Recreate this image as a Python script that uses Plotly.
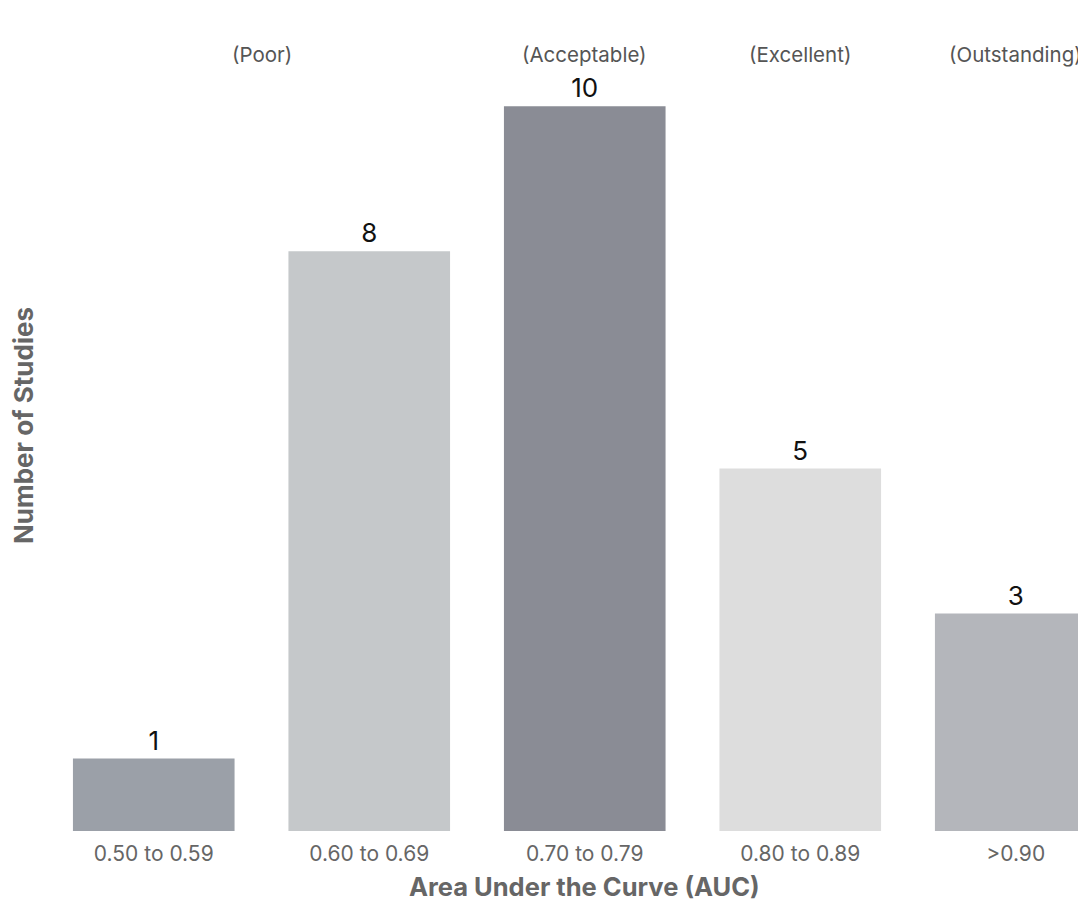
import plotly.graph_objects as go

categories = ["0.50 to 0.59", "0.60 to 0.69", "0.70 to 0.79", "0.80 to 0.89", ">0.90"]
counts = [1, 8, 10, 5, 3]
bar_colors = ["#9ba0a8", "#c5c8ca", "#8a8c95", "#dddddd", "#b4b6bb"]
rating_labels = ["(Poor)", "(Acceptable)", "(Excellent)", "(Outstanding)"]
rating_positions = [0.5, 2, 3, 4]

font_family = "Inter, Liberation Sans, Arial, sans-serif"

fig = go.Figure(
    go.Bar(
        x=list(range(len(categories))),
        y=counts,
        marker=dict(color=bar_colors, line=dict(width=0)),
        text=[str(c) for c in counts],
        textposition="outside",
        textfont=dict(size=26, color="#111111", family=font_family),
        cliponaxis=False,
        width=0.75,
    )
)

for lab, pos in zip(rating_labels, rating_positions):
    fig.add_annotation(
        x=pos, y=10.72, xref="x", yref="y", text=lab, showarrow=False,
        font=dict(size=20.5, color="#555555", family=font_family),
    )

# x-axis title centred on the middle category (plot area extends past the right edge)
fig.add_annotation(
    x=2, xref="x", y=-0.069, yref="paper", yanchor="middle",
    text="<b>Area Under the Curve (AUC)</b>", showarrow=False,
    font=dict(size=25.5, color="#666666", family=font_family),
)

fig.update_layout(
    width=1078, height=893,
    margin=dict(l=38, r=0, t=12, b=70),
    plot_bgcolor="white", paper_bgcolor="white",
    showlegend=False,
    font=dict(family=font_family),
)
fig.update_xaxes(
    tickmode="array", tickvals=list(range(len(categories))), ticktext=categories,
    range=[-0.5, 4.326],
    tickfont=dict(size=21, color="#666666", family=font_family),
    ticklabelstandoff=8,
    showgrid=False, zeroline=False, showline=False, ticks="",
    automargin=False,
)
fig.update_yaxes(
    range=[0, 11.19], showticklabels=False, showgrid=False, zeroline=False, showline=False, ticks="",
    title=dict(text="<b>Number of Studies</b>", font=dict(size=26, color="#666666", family=font_family), standoff=4),
    automargin=False,
)

fig.write_html("out.html")
